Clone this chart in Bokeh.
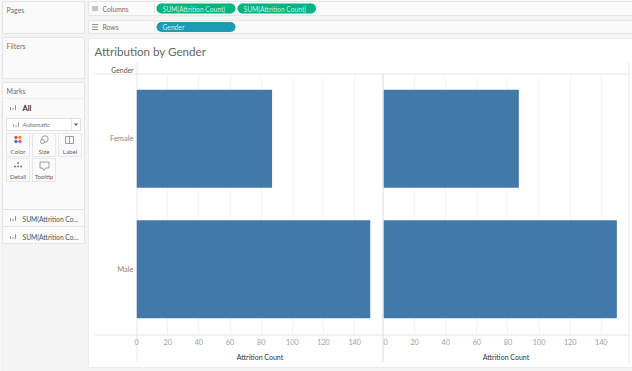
from bokeh.plotting import figure
from bokeh.models import Range1d, FactorRange, FixedTicker, ColumnDataSource
from bokeh.core.properties import value
from bokeh.embed import file_html
from bokeh.resources import INLINE

genders = ["Female", "Male"]
attrition_count = [87, 150]
x_ticks = [0, 20, 40, 60, 80, 100, 120, 140]
title = "Attribution by Gender"
axis_title = "Attrition Count"
pill_measure = "SUM(Attrition Count)"

FONT = "Lato"
BAR = "#4079aa"
W, H = 632, 371

# ---------- application chrome (Tableau worksheet UI) ----------
c = figure(width=W, height=H, x_range=Range1d(0, W), y_range=Range1d(H, 0),
           output_backend="svg", toolbar_location=None, min_border=0,
           background_fill_color="#f4f4f4", border_fill_color="#f4f4f4",
           styles={"position": "absolute", "left": "0px", "top": "0px"})
c.axis.visible = False
c.grid.visible = False
c.outline_line_color = None

def box(x0, y0, x1, y1, fill="#fafafa", line="#e6e6e6", lw=1):
    c.quad(left=[x0], right=[x1], top=[y0], bottom=[y1], fill_color=fill, line_color=line, line_width=lw)

def seg(x0, y0, x1, y1, color="#e6e6e6", lw=1):
    c.line([x0, x1], [y0, y1], line_color=color, line_width=lw)

def txt(x, y, s, size=7, color="#707070", align="left", style="normal"):
    c.text([x], [y], text=[s], text_font=value(FONT), text_font_size=f"{size}px", text_color=color,
           text_align=align, text_baseline="middle", text_font_style=style)

def barsicon(x, y, color="#9a9a9a"):
    for dx, h in ((0, 3), (2.5, 2), (5, 5)):
        seg(x + dx, y + 2.5, x + dx, y + 2.5 - h, color, 1)

box(2, 1, 84, 33)
box(2, 37, 84, 78)
box(2, 82, 84, 243)
box(88, 1, 640, 15)
box(88, 20, 640, 33)
box(88, 38, 640, 367, fill="#ffffff", line="#ececec")
seg(154, 1, 154, 33, "#ececec")
seg(2, 98, 84, 98, "#eeeeee")
seg(2, 209, 84, 209, "#e6e6e6")
seg(2, 226, 84, 226, "#e6e6e6")

txt(6, 9, "Pages")
txt(6, 45, "Filters")
txt(6, 90, "Marks")
txt(102, 8, "Columns", 6.8)
txt(102, 26.5, "Rows", 6.8)
for i in range(3):
    seg(92.5 + i * 2, 5.5, 92.5 + i * 2, 10.5, "#777777", 0.8)
for i in range(3):
    seg(91.5, 24 + i * 2.5, 97.5, 24 + i * 2.5, "#777777", 0.8)

for x0, x1, y, h, col, s in ((156, 235, 8, 10, "#00b680", pill_measure),
                             (237, 315.5, 8, 10, "#00b680", pill_measure),
                             (156, 235, 26.5, 10, "#1f9bb6", "Gender")):
    c.quad(left=[x0 + 5], right=[x1 - 5], top=[y - h / 2], bottom=[y + h / 2], fill_color=col, line_color=None)
    c.circle([x0 + 5, x1 - 5], [y, y], radius=5, fill_color=col, line_color=None)
    txt(x0 + 6, y, s, 6.7, "#c8efe2")

barsicon(10, 107)
txt(22, 107.5, "All", 7.5, "#333333", style="bold")
box(6, 118, 80, 130, fill="#ffffff", line="#e0e0e0")
seg(71, 118, 71, 130, "#e6e6e6")
barsicon(13, 124, "#a5a5a5")
txt(22, 124, "Automatic", 6)
c.patch([73.5, 77.5, 75.5], [123, 123, 125.5], fill_color="#555555", line_color=None)

for x0, y0, s in ((6, 133, "Color"), (32, 133, "Size"), (58, 133, "Label"), (6, 158, "Detail"), (32, 158, "Tooltip")):
    box(x0, y0, x0 + 23, y0 + 23, fill="#fafafa", line="#e8e8e8")
    txt(x0 + 11.5, y0 + 17.5, s, 6.2, "#666666", "center")
# Color swatches
for (dx, dy, col) in ((-2, -2, "#e15759"), (2, -2, "#f28e2b"), (-2, 2, "#4e79a7"), (2, 2, "#d65a9a")):
    c.circle([17.5 + dx], [139 + dy], radius=1.7, fill_color=col, line_color=None)
# Size
c.circle([44.5], [138.5], radius=3.2, fill_color=None, line_color="#888888", line_width=0.8)
c.circle([42], [141], radius=2, fill_color="#fafafa", line_color="#888888", line_width=0.8)
# Label
c.quad(left=[65], right=[73], top=[136], bottom=[143], fill_color=None, line_color="#888888", line_width=0.8)
seg(69, 136, 69, 143, "#888888", 0.8)
# Detail
for dx, dy in ((0, -2.5), (-3, 1), (0, 1), (3, 1)):
    c.circle([17.5 + dx], [165 + dy], radius=1.1, fill_color="#888888", line_color=None)
# Tooltip
c.patch([39.5, 48.5, 48.5, 45, 43.5, 42, 39.5], [161.5, 161.5, 167.5, 167.5, 170, 167.5, 167.5],
        fill_color=None, line_color="#888888", line_width=0.8)

for y in (218, 236):
    barsicon(10, y)
    txt(22, y + 0.5, "SUM(Attrition Co...", 6.7, "#555555")

# worksheet header and title
txt(94, 51, title, 11.6, "#666666")
txt(133, 69, "Gender", 6.8, "#555555", "right")
seg(94, 73.5, 629, 73.5, "#e8e8e8")
seg(94, 334.5, 629, 334.5, "#e4e4e4")
seg(136.5, 62, 136.5, 362, "#e8e8e8")
seg(382.5, 73, 382.5, 362, "#dcdcdc")
seg(628.5, 62, 628.5, 362, "#e8e8e8")

# ---------- data panels ----------
def panel(left, frame_w, border_left, x_end, with_categories):
    p = figure(frame_width=frame_w, frame_height=261, x_range=Range1d(0, x_end),
               y_range=FactorRange(factors=genders[::-1]),
               output_backend="svg", toolbar_location=None,
               min_border_left=border_left, min_border_right=0, min_border_top=0, min_border_bottom=30,
               background_fill_alpha=0, border_fill_alpha=0,
               styles={"position": "absolute", "left": f"{left}px", "top": "73px"})
    src = ColumnDataSource(dict(g=genders, v=attrition_count))
    p.hbar(y="g", right="v", left=0, height=0.75, source=src, fill_color=BAR, line_color=None)
    p.outline_line_color = None
    p.ygrid.visible = False
    p.xgrid.grid_line_color = "#f3f3f3"
    p.xgrid.ticker = FixedTicker(ticks=x_ticks)
    p.xaxis.ticker = FixedTicker(ticks=x_ticks)
    p.xaxis.axis_label = axis_title
    p.xaxis.axis_label_text_font = FONT
    p.xaxis.axis_label_text_font_size = "7px"
    p.xaxis.axis_label_text_font_style = "normal"
    p.xaxis.axis_label_text_color = "#333333"
    p.xaxis.axis_label_standoff = 5
    p.xaxis.major_label_text_font = FONT
    p.xaxis.major_label_text_font_size = "7.2px"
    p.xaxis.major_label_text_color = "#a0a0a0"
    p.xaxis.major_label_standoff = 4
    p.xaxis.major_tick_out = 0
    p.xaxis.major_tick_in = 0
    p.xaxis.major_tick_line_color = None
    p.xaxis.minor_tick_line_color = None
    p.xaxis.axis_line_color = None
    p.yaxis.visible = with_categories
    if with_categories:
        p.yaxis.major_label_text_font = FONT
        p.yaxis.major_label_text_font_size = "7.5px"
        p.yaxis.major_label_text_color = "#888888"
        p.yaxis.major_label_standoff = 3
        p.yaxis.major_tick_out = 0
        p.yaxis.major_tick_in = 0
        p.yaxis.major_tick_line_color = None
        p.yaxis.axis_line_color = None
    return p

left_panel = panel(94, 247, 42, 158.5, True)
right_panel = panel(383, 245, 0, 157.5, False)

open("out.html", "w").write(file_html([c, left_panel, right_panel], INLINE))
